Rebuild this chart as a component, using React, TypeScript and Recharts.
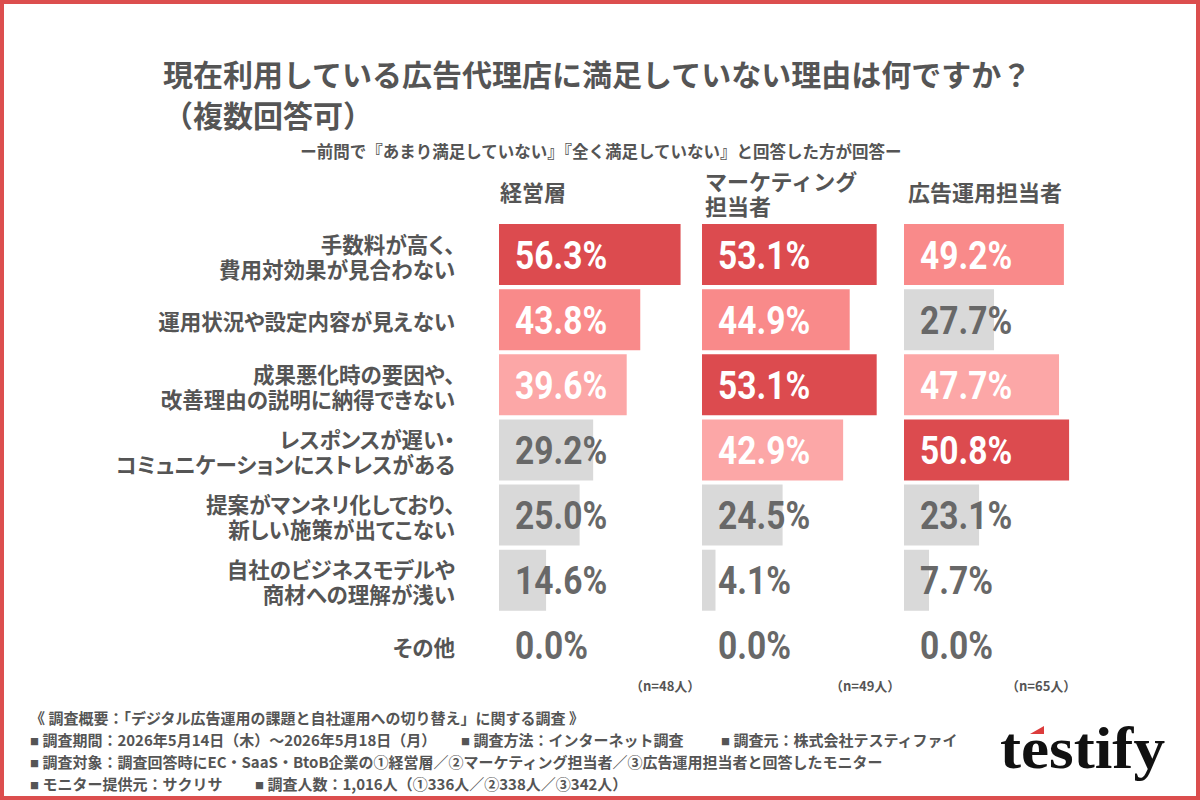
import React from "react";
import { BarChart, Bar, XAxis, YAxis, Cell, LabelList } from "recharts";

const FONT = '"Noto Sans CJK JP", "Noto Sans", sans-serif';
const NUM_FONT = 'Roboto, "Noto Sans", sans-serif';
const TEXT = "#555555";
const DARK = "#dc4b4f";
const MID = "#f98a8a";
const LIGHT = "#fca7a7";
const GRAY = "#d9d9d9";

const categories = [
  "手数料が高く、\n費用対効果が見合わない",
  "運用状況や設定内容が見えない",
  "成果悪化時の要因や、\n改善理由の説明に納得できない",
  "レスポンスが遅い・\nコミュニケーションにストレスがある",
  "提案がマンネリ化しており、\n新しい施策が出てこない",
  "自社のビジネスモデルや\n商材への理解が浅い",
  "その他",
];
const executives = [56.3, 43.8, 39.6, 29.2, 25.0, 14.6, 0.0];
const marketers = [53.1, 44.9, 53.1, 42.9, 24.5, 4.1, 0.0];
const adOperators = [49.2, 27.7, 47.7, 50.8, 23.1, 7.7, 0.0];
const groupNames = ["経営層", "マーケティング\n担当者", "広告運用担当者"];
const sampleSizes = ["（n=48人）", "（n=49人）", "（n=65人）"];

const TITLE = "現在利用している広告代理店に満足していない理由は何ですか？";
const TITLE2 = "（複数回答可）";
const SUBTITLE = "ー前問で『あまり満足していない』『全く満足していない』と回答した方が回答ー";

function colorFor(values: number[], v: number) {
  const distinct = Array.from(new Set(values)).sort((a, b) => b - a);
  const r = distinct.indexOf(v);
  return r === 0 ? DARK : r === 1 ? MID : r === 2 ? LIGHT : GRAY;
}

const CategoryTick = (props: any) => {
  const { x, y, payload } = props;
  const lines = String(payload.value).split("\n");
  const fs = 21.5;
  const lh = 25;
  const y0 = y - ((lines.length - 1) * lh) / 2 + 2.5 + 0.38 * fs;
  return (
    <text
      textAnchor="end"
      fontFamily={FONT}
      fontWeight={700}
      fontSize={fs}
      fill={TEXT}
      style={{ fontFeatureSettings: '"palt"' }}
    >
      {lines.map((l, i) => (
        <tspan key={i} x={x} y={y0 + i * lh}>
          {l}
        </tspan>
      ))}
    </text>
  );
};

const makeValueLabel = (values: number[]) => (props: any) => {
  const { x, y, height, value } = props;
  const v = Number(value);
  const fill = colorFor(values, v) === GRAY ? "#686868" : "#ffffff";
  const tx = Number(x) + 16;
  const ty = Number(y) + Number(height) / 2 + 14;
  return (
    <text
      transform={`translate(${tx},${ty}) scale(0.86,1)`}
      fontFamily={NUM_FONT}
      fontWeight={700}
      fontSize={39}
      fill={fill}
    >
      {v.toFixed(1) + "%"}
    </text>
  );
};

const panels = [
  { values: executives, left: 499, width: 193.5 },
  { values: marketers, left: 701.5, width: 197.4 },
  { values: adOperators, left: 904, width: 195 },
];

const CHART_TOP = 222;
const CHART_H = 456;

function Panel({ values, left, width, first }: { values: number[]; left: number; width: number; first: boolean }) {
  const data = categories.map((c, i) => ({ category: c, value: values[i] }));
  const yw = first ? left : 0;
  return (
    <div style={{ position: "absolute", left: first ? 0 : left, top: CHART_TOP }}>
      <BarChart
        width={width + yw}
        height={CHART_H}
        data={data}
        layout="vertical"
        margin={{ top: 0, right: 0, bottom: 0, left: 0 }}
      >
        <XAxis type="number" domain={[0, 60]} hide />
        {first ? (
          <YAxis
            type="category"
            dataKey="category"
            width={yw}
            tickLine={false}
            axisLine={false}
            tickSize={0}
            tickMargin={44}
            interval={0}
            tick={<CategoryTick />}
          />
        ) : (
          <YAxis type="category" dataKey="category" hide />
        )}
        <Bar dataKey="value" barSize={61} minPointSize={0.01} isAnimationActive={false}>
          {data.map((d, i) => (
            <Cell key={i} fill={colorFor(values, d.value)} />
          ))}
          <LabelList dataKey="value" content={makeValueLabel(values)} />
        </Bar>
      </BarChart>
    </div>
  );
}

const Sq = () => <tspan fontSize={9} dy={-1}>■</tspan>;

export default function App() {
  const headerX = [500, 705, 908];
  const nX = [630, 830, 1006];
  return (
    <div style={{ position: "absolute", left: 0, top: 0, width: 1200, height: 800, background: "#fff", overflow: "hidden" }}>
      <svg width={1200} height={800} style={{ position: "absolute", left: 0, top: 0 }}>
        <rect x={2} y={2} width={1196} height={796} fill="none" stroke="#dc4e4e" strokeWidth={4} />
        <g fontFamily={FONT} fontWeight={700} fill={TEXT}>
          <text x={163} y={86} fontSize={30}>{TITLE}</text>
          <text x={163} y={127} fontSize={30}>{TITLE2}</text>
          <text x={601} y={158} fontSize={16.5} textAnchor="middle">{SUBTITLE}</text>
          {groupNames.map((g, i) => {
            const lines = g.split("\n");
            const y0 = lines.length > 1 ? 190 : 201.4;
            return (
              <text key={i} fontSize={22}>
                {lines.map((l, j) => (
                  <tspan key={j} x={headerX[i]} y={y0 + j * 25}>{l}</tspan>
                ))}
              </text>
            );
          })}
          {sampleSizes.map((s, i) => (
            <text key={i} x={nX[i]} y={691} fontSize={13}>{s}</text>
          ))}
          <g fontSize={15}>
            <text x={30} y={723.5}>《 調査概要：「デジタル広告運用の課題と自社運用への切り替え」に関する調査 》</text>
            <text x={30} y={745.5}><Sq /><tspan dy={1}> 調査期間：2026年5月14日（木）～2026年5月18日（月）</tspan></text>
            <text x={461} y={745.5}><Sq /><tspan dy={1}> 調査方法：インターネット調査</tspan></text>
            <text x={721} y={745.5}><Sq /><tspan dy={1}> 調査元：株式会社テスティファイ</tspan></text>
            <text x={30} y={767.5}><Sq /><tspan dy={1}> 調査対象：調査回答時にEC・SaaS・BtoB企業の①経営層／②マーケティング担当者／③広告運用担当者と回答したモニター</tspan></text>
            <text x={30} y={789.5}><Sq /><tspan dy={1}> モニター提供元：サクリサ</tspan></text>
            <text x={255} y={789.5}><Sq /><tspan dy={1}> 調査人数：1,016人（①336人／②338人／③342人）</tspan></text>
          </g>
        </g>
        <text x={1000} y={768} fontFamily='"Liberation Serif", "DejaVu Serif", serif' fontWeight={700} fontSize={60} fill="#111" textLength={165} lengthAdjust="spacingAndGlyphs">testify</text>
        <polygon points="1030,734 1044,734 1044,726" fill="#dc3c3c" />
      </svg>
      {panels.map((p, i) => (
        <Panel key={i} values={p.values} left={p.left} width={p.width} first={i === 0} />
      ))}
    </div>
  );
}
